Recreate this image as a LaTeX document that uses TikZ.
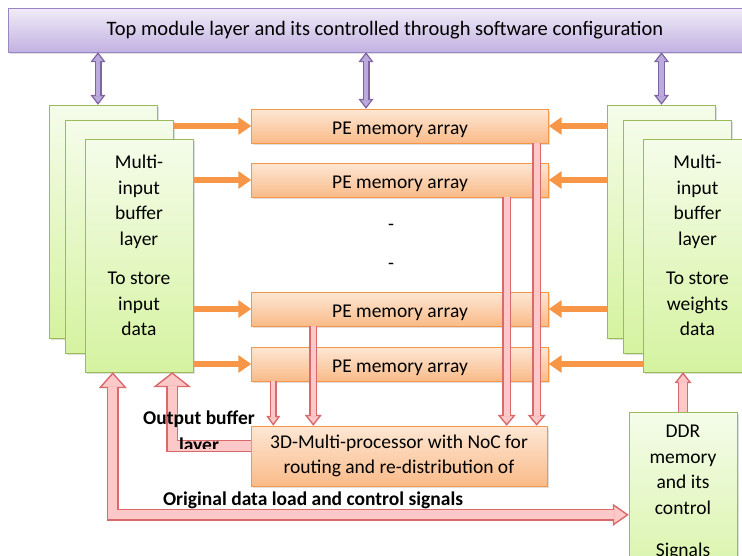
\documentclass[tikz,border=0pt]{standalone}
\usepackage{fontspec}
\setmainfont{Carlito}
\usetikzlibrary{arrows.meta,shadows}

\definecolor{barline}{HTML}{9A86C4}
\definecolor{bartop}{HTML}{F1ECF8}
\definecolor{barbot}{HTML}{C2B2E1}
\definecolor{bufline}{HTML}{9BBB59}
\definecolor{buftop}{HTML}{F5FCEA}
\definecolor{bufbot}{HTML}{D5F3A0}
\definecolor{peline}{HTML}{F79646}
\definecolor{petop}{HTML}{FDE7D5}
\definecolor{pebot}{HTML}{FABB88}
\definecolor{orangeline}{HTML}{F79646}
\definecolor{pinkline}{HTML}{D9696B}
\definecolor{pinkfill}{HTML}{FCC8C8}
\definecolor{lilacline}{HTML}{8064A2}
\definecolor{lilacfill}{HTML}{BBAADC}

\tikzset{
  boxshadow/.style={drop shadow={opacity=0.25,shadow xshift=1.5pt,shadow yshift=-1.5pt}},
  topbar/.style={draw=barline,top color=bartop,bottom color=barbot,minimum width=754pt,minimum height=44pt,boxshadow,font=\fontsize{20.5}{25}\selectfont},
  bufbox/.style={draw=bufline,top color=buftop,bottom color=bufbot,minimum width=108pt,minimum height=233pt,boxshadow},
  buftext/.style={align=center,inner sep=3pt},
  pebox/.style={draw=peline,top color=petop,bottom color=pebot,minimum width=297pt,minimum height=34pt,boxshadow},
  boldlabel/.style={font=\fontsize{19.5}{27}\selectfont\bfseries,align=center},
  orangearrow/.style={draw=orangeline,line width=6pt,-{Triangle[length=13pt,width=17pt]}},
  % outlined block arrows: shaft width, tip width, tip length
  pinkarrow/.style n args={3}{draw=pinkline,line width=#1,
    -{Triangle[open,fill=pinkfill,line width=1.4pt,length=#3,width=#2]},
    postaction={draw=pinkfill,line width=#1-2.8pt,-,shorten >=#3-1.5pt}},
  pinkboth/.style n args={3}{draw=pinkline,line width=#1,
    {Triangle[open,fill=pinkfill,line width=1.4pt,length=#3,width=#2]}-{Triangle[open,fill=pinkfill,line width=1.4pt,length=#3,width=#2-6pt]},
    postaction={draw=pinkfill,line width=#1-2.8pt,-,shorten >=#3-1.5pt,shorten <=#3-1.5pt}},
  lilacarrow/.style={draw=lilacline,line width=7pt,
    {Triangle[open,fill=lilacfill,line width=1.2pt,length=10pt,width=15pt]}-{Triangle[open,fill=lilacfill,line width=1.2pt,length=10pt,width=15pt]},
    postaction={draw=lilacfill,line width=4.6pt,-,shorten >=8.8pt,shorten <=8.8pt}},
  every node/.style={font=\fontsize{19.5}{25.5}\selectfont}
}

\begin{document}
\begin{tikzpicture}[x=1pt,y=-1pt]
		\useasboundingbox (0,0) rectangle (742,555);
		%control bar on top
		\node[topbar] (top) at (385,30) {Top module layer and its controlled through software configuration};
		%stacked buffers on the left (input) and on the right (weights)
		\foreach \dx/\dy/\n in {0/0/A,16/15/B,36/34/C}{
			\node[bufbox] (in\n) at (103+\dx,221.5+\dy) {};
			\node[bufbox] (w\n) at (661.5+\dx,221.5+\dy) {};
		}
		\node[buftext,anchor=north] (intext) at ([yshift=-13pt]inC.north) {Multi-\\input\\buffer\\layer\\[14pt]To store\\input\\data};
		\node[buftext,anchor=north] (wtext) at ([yshift=-13pt]wC.north) {Multi-\\input\\buffer\\layer\\[14pt]To store\\weights\\data};
		%PE rows in the middle
		\foreach \y/\n in {126/1,180/2,309/3,364/4}{
			\node[pebox,text height=20pt,text depth=4pt] (pe\n) at (400,\y) {PE memory array};
		}
		\node (gap1) at (391,227) {-};
		\node (gap2) at (391,266) {-};
		%processor and memory at the bottom
		\node[pebox,minimum height=60pt,minimum width=296pt,align=center] (noc) at (399,456) {3D-Multi-processor with NoC for\\routing and re-distribution of};
		\node[bufbox,minimum height=190pt] (ddr) at (683,507) {};
		\node[buftext,anchor=north] (ddrtext) at ([yshift=-10pt]ddr.north) {DDR\\memory\\and its\\control\\[17pt]Signals};
		%links to the control bar
		\draw[lilacarrow] ([xshift=-5pt]inA.north |- top.south) -- ([xshift=-5pt]inA.north);
		\draw[lilacarrow] ([xshift=-34pt]pe1.north |- top.south) -- ([xshift=-34pt]pe1.north);
		\draw[lilacarrow] (wA.north |- top.south) -- (wA.north);
		%buffers feed the PE rows
		\draw[orangearrow] (inB.east |- pe1.west) -- (pe1.west);
		\foreach \n in {2,3,4}
			\draw[orangearrow] (inC.east |- pe\n.west) -- (pe\n.west);
		\foreach \n in {1,2,3}
			\draw[orangearrow] (wA.west |- pe\n.east) -- (pe\n.east);
		\draw[orangearrow] (wC.west |- pe4.east) -- (pe4.east);
		%PE rows down to the processor
		\draw[pinkarrow={9pt}{18pt}{11pt}] ([xshift=-12pt]pe1.south east) -- ([xshift=-12pt]pe1.south east |- noc.north);
		\draw[pinkarrow={9pt}{18pt}{11pt}] ([xshift=-42pt]pe2.south east) -- ([xshift=-42pt]pe2.south east |- noc.north);
		\draw[pinkarrow={8pt}{17pt}{11pt}] ([xshift=62pt]pe3.south west) -- ([xshift=62pt]pe3.south west |- noc.north);
		\draw[pinkarrow={7pt}{14pt}{10pt}] ([xshift=22pt]pe4.south west) -- ([xshift=22pt]pe4.south west |- noc.north);
		%output path back to the input buffers
		\draw[pinkarrow={12pt}{38pt}{15pt}] ([yshift=10pt]noc.west) -| ([xshift=-21pt]inC.south east);
		\begin{scope}
			\clip (130,400) rectangle (270,448);
			\node[boldlabel] (outlabel) at (199,433) {Output buffer\\layer};
		\end{scope}
		%load path between memory and input buffers
		\draw[pinkboth={12pt}{28pt}{16pt}] ([xshift=28pt]inC.south west) |- ([yshift=-103pt]ddr.north west);
		\node[boldlabel] (loadlabel) at (313,500) {Original data load and control signals};
		\draw[pinkarrow={10pt}{17pt}{11pt}] (ddr.north) -- (ddr.north |- wC.south);
\end{tikzpicture}
\end{document}
